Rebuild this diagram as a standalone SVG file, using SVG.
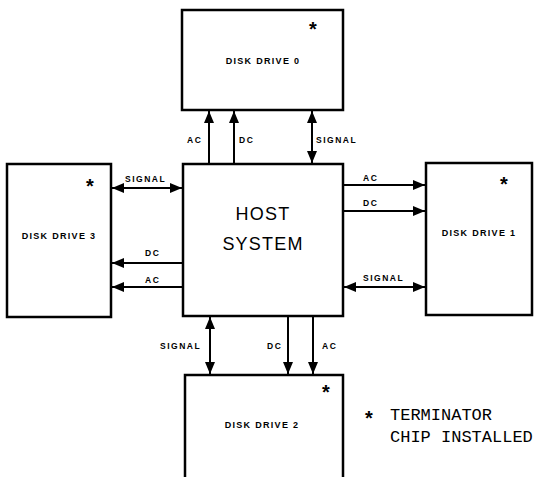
<svg xmlns="http://www.w3.org/2000/svg" width="547" height="477" viewBox="0 0 547 477">
<style>
.box{fill:#fff;stroke:#000;stroke-width:2.5}
.ln{fill:none;stroke:#000;stroke-width:2}
.lbl{font-family:"Liberation Sans",Arial,sans-serif;font-weight:bold;font-size:9px;letter-spacing:1.3px;fill:#000}
.sm{font-family:"Liberation Sans",Arial,sans-serif;font-weight:bold;font-size:8.5px;letter-spacing:1.5px;fill:#000}
.ast{font-family:"Liberation Sans",Arial,sans-serif;font-weight:bold;font-size:20px;fill:#000}
.host{font-family:"Liberation Sans",Arial,sans-serif;font-size:18px;letter-spacing:1.2px;fill:#000}
.leg{font-family:"Liberation Mono","Courier New",monospace;font-size:17px;fill:#000}
</style>
<defs>
<marker id="ah" viewBox="0 0 12 10" refX="12" refY="5" markerWidth="12" markerHeight="10" markerUnits="userSpaceOnUse" orient="auto-start-reverse">
<path d="M0,0 L12,5 L0,10 Z" fill="#000"/>
</marker>
</defs>
<rect width="547" height="477" fill="#fff"/>
<g id="drive0">
<rect class="box" x="182" y="10" width="161" height="100"/>
<text class="lbl" x="263" y="64" text-anchor="middle">DISK DRIVE 0</text>
<text class="ast" x="313" y="36" text-anchor="middle">*</text>
</g>
<g id="host">
<rect class="box" x="183" y="164" width="160" height="152"/>
<text class="host" x="263" y="220" text-anchor="middle">HOST</text>
<text class="host" x="263" y="250" text-anchor="middle">SYSTEM</text>
</g>
<g id="drive3">
<rect class="box" x="7" y="164" width="104" height="153"/>
<text class="lbl" x="59" y="239" text-anchor="middle">DISK DRIVE 3</text>
<text class="ast" x="90" y="193" text-anchor="middle">*</text>
</g>
<g id="drive1">
<rect class="box" x="426" y="163" width="106" height="152"/>
<text class="lbl" x="479" y="236" text-anchor="middle">DISK DRIVE 1</text>
<text class="ast" x="504" y="191" text-anchor="middle">*</text>
</g>
<g id="drive2">
<path class="box" d="M185,478 L185,375 L343,375 L343,478"/>
<text class="lbl" x="262" y="428" text-anchor="middle">DISK DRIVE 2</text>
<text class="ast" x="326" y="399" text-anchor="middle">*</text>
</g>
<g id="connectors">
<line class="ln" x1="209" y1="164" x2="209" y2="111" marker-end="url(#ah)"/>
<line class="ln" x1="234" y1="164" x2="234" y2="111" marker-end="url(#ah)"/>
<line class="ln" x1="312" y1="163" x2="312" y2="111" marker-start="url(#ah)" marker-end="url(#ah)"/>
<line class="ln" x1="112" y1="188" x2="182" y2="188" marker-start="url(#ah)" marker-end="url(#ah)"/>
<line class="ln" x1="183" y1="263" x2="112" y2="263" marker-end="url(#ah)"/>
<line class="ln" x1="183" y1="287" x2="112" y2="287" marker-end="url(#ah)"/>
<line class="ln" x1="343" y1="185" x2="425" y2="185" marker-end="url(#ah)"/>
<line class="ln" x1="343" y1="211" x2="425" y2="211" marker-end="url(#ah)"/>
<line class="ln" x1="344" y1="287" x2="425" y2="287" marker-start="url(#ah)" marker-end="url(#ah)"/>
<line class="ln" x1="210" y1="317" x2="210" y2="374" marker-start="url(#ah)" marker-end="url(#ah)"/>
<line class="ln" x1="288" y1="316" x2="288" y2="374" marker-end="url(#ah)"/>
<line class="ln" x1="313" y1="316" x2="313" y2="374" marker-end="url(#ah)"/>
<text class="sm" x="187" y="143">AC</text>
<text class="sm" x="239" y="143">DC</text>
<text class="sm" x="316" y="143">SIGNAL</text>
<text class="sm" x="125" y="182">SIGNAL</text>
<text class="sm" x="145" y="256">DC</text>
<text class="sm" x="145" y="283">AC</text>
<text class="sm" x="363" y="181">AC</text>
<text class="sm" x="363" y="206">DC</text>
<text class="sm" x="363" y="281">SIGNAL</text>
<text class="sm" x="160" y="349">SIGNAL</text>
<text class="sm" x="267" y="349">DC</text>
<text class="sm" x="322" y="349">AC</text>
</g>
<g id="legend">
<text class="ast" x="369" y="425" text-anchor="middle">*</text>
<text class="leg" x="390" y="420">TERMINATOR</text>
<text class="leg" x="390" y="442">CHIP INSTALLED</text>
</g>
</svg>
